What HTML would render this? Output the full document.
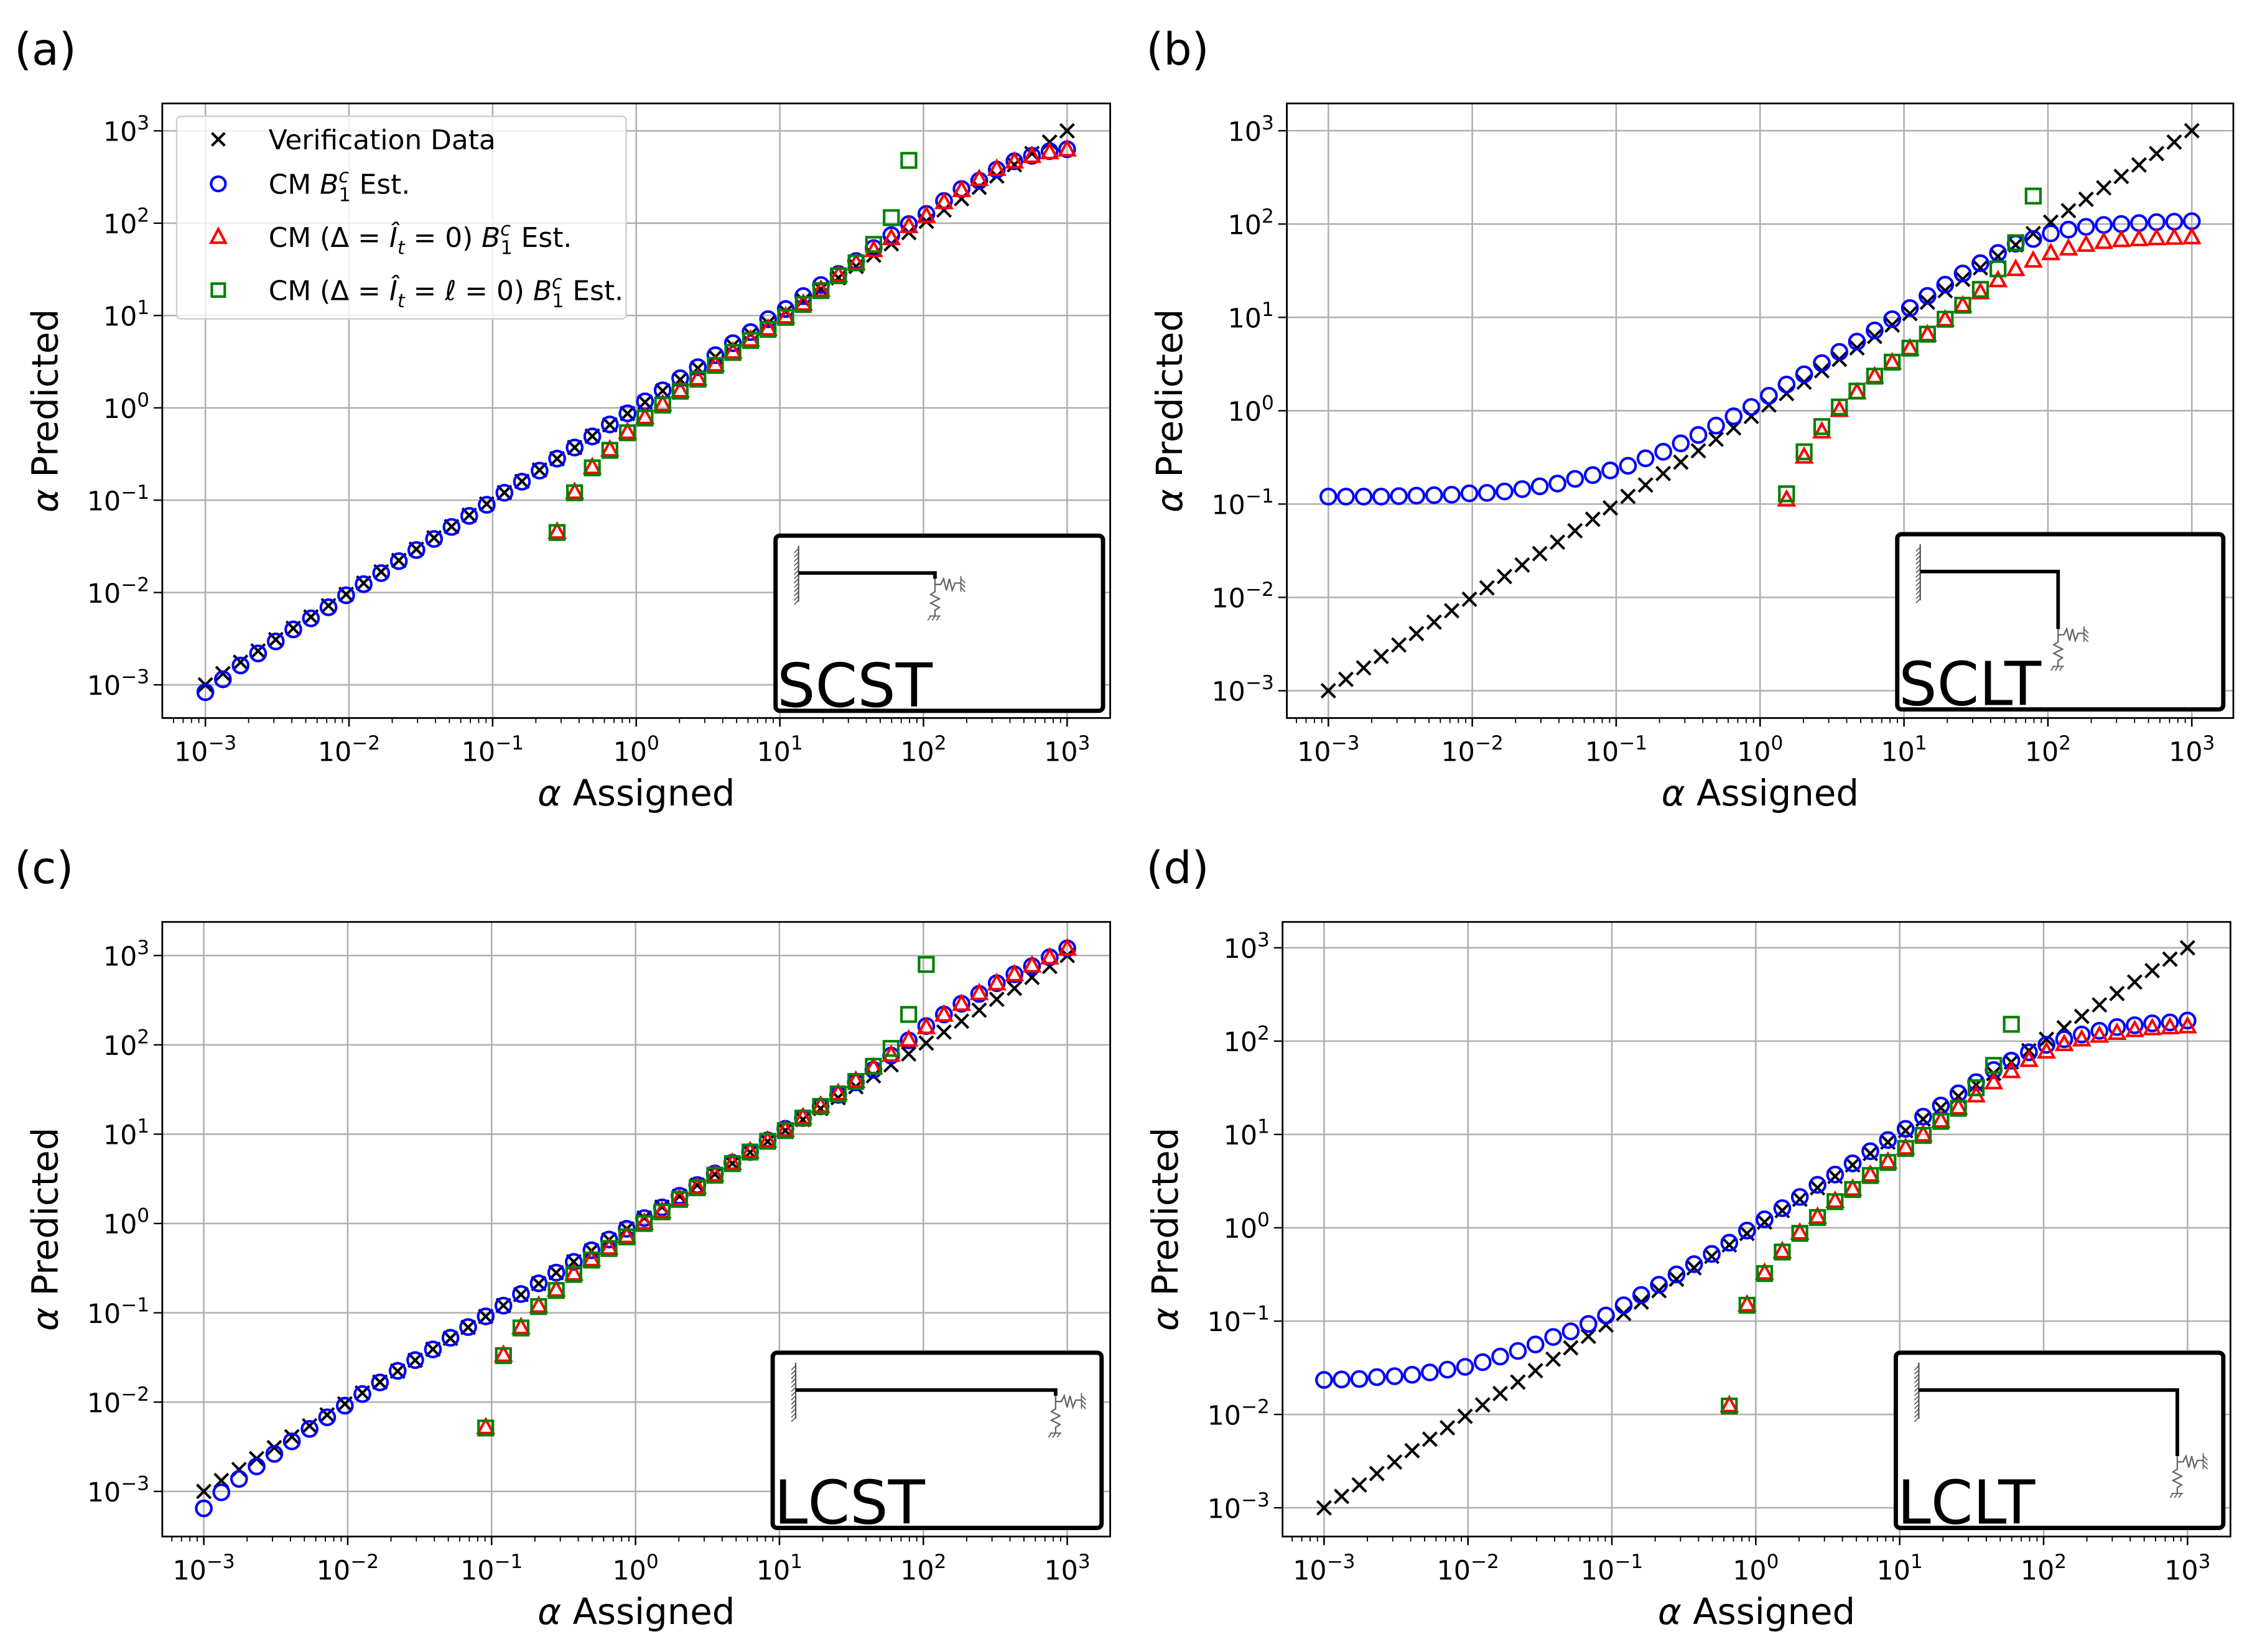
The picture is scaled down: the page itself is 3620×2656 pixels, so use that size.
<!DOCTYPE html>
<html><head><meta charset="utf-8"><style>
html,body{margin:0;padding:0;background:#fff;}
svg{display:block;}
text{font-family:"DejaVu Sans","Liberation Sans",sans-serif;}
</style></head><body>
<svg id="fig" xmlns="http://www.w3.org/2000/svg" width="3620" height="2656" viewBox="0 0 1568 1150.4"></svg>
<script>
// shared x values (log10 of alpha assigned)
const logAssigned = [-3.000,-2.878,-2.755,-2.633,-2.510,-2.388,-2.265,-2.143,-2.020,-1.898,-1.776,-1.653,-1.531,-1.408,-1.286,-1.163,-1.041,-0.918,-0.796,-0.673,-0.551,-0.429,-0.306,-0.184,-0.061,0.061,0.184,0.306,0.429,0.551,0.673,0.796,0.918,1.041,1.163,1.286,1.408,1.531,1.653,1.776,1.898,2.020,2.143,2.265,2.388,2.510,2.633,2.755,2.878,3.000];
const verificationLog = [-3.000,-2.878,-2.755,-2.633,-2.510,-2.388,-2.265,-2.143,-2.020,-1.898,-1.776,-1.653,-1.531,-1.408,-1.286,-1.163,-1.041,-0.918,-0.796,-0.673,-0.551,-0.429,-0.306,-0.184,-0.061,0.061,0.184,0.306,0.429,0.551,0.673,0.796,0.918,1.041,1.163,1.286,1.408,1.531,1.653,1.776,1.898,2.020,2.143,2.265,2.388,2.510,2.633,2.755,2.878,3.000];
const N=null;
// panel (a) SCST
const aCirc = [-3.08,-2.94,-2.79,-2.66,-2.53,-2.40,-2.28,-2.16,-2.03,-1.91,-1.79,-1.66,-1.54,-1.42,-1.29,-1.17,-1.05,-0.92,-0.80,-0.68,-0.55,-0.43,-0.31,-0.18,-0.06,0.07,0.19,0.32,0.44,0.57,0.70,0.82,0.96,1.07,1.21,1.33,1.45,1.59,1.73,1.87,1.99,2.10,2.24,2.37,2.46,2.58,2.67,2.73,2.78,2.80];
const aTri = [N,N,N,N,N,N,N,N,N,N,N,N,N,N,N,N,N,N,N,N,-1.35,-0.92,-0.65,-0.46,-0.27,-0.11,0.03,0.18,0.31,0.46,0.60,0.73,0.85,0.98,1.12,1.27,1.43,1.56,1.70,1.83,1.96,2.07,2.22,2.35,2.47,2.58,2.66,2.72,2.76,2.79];
const aSq = [N,N,N,N,N,N,N,N,N,N,N,N,N,N,N,N,N,N,N,N,-1.35,-0.92,-0.65,-0.46,-0.27,-0.11,0.03,0.18,0.31,0.46,0.60,0.73,0.85,0.98,1.12,1.27,1.43,1.57,1.77,2.06,2.68,N,N,N,N,N,N,N,N,N];
// panel (b) SCLT
const bCirc = [-0.92,-0.92,-0.92,-0.92,-0.915,-0.91,-0.905,-0.90,-0.885,-0.88,-0.865,-0.84,-0.81,-0.78,-0.73,-0.69,-0.64,-0.59,-0.51,-0.44,-0.35,-0.26,-0.16,-0.06,0.04,0.16,0.28,0.39,0.51,0.63,0.74,0.86,0.98,1.10,1.23,1.35,1.47,1.58,1.69,1.79,1.84,1.90,1.94,1.97,1.99,2.00,2.01,2.02,2.025,2.03];
const bTri = [N,N,N,N,N,N,N,N,N,N,N,N,N,N,N,N,N,N,N,N,N,N,N,N,N,N,-0.96,-0.50,-0.23,0.00,0.19,0.36,0.51,0.66,0.81,0.97,1.12,1.26,1.39,1.51,1.60,1.68,1.73,1.77,1.80,1.82,1.83,1.84,1.845,1.85];
const bSq = [N,N,N,N,N,N,N,N,N,N,N,N,N,N,N,N,N,N,N,N,N,N,N,N,N,N,-0.89,-0.44,-0.17,0.04,0.21,0.37,0.52,0.67,0.82,0.98,1.13,1.30,1.52,1.80,2.30,N,N,N,N,N,N,N,N,N];
// panel (c) LCST
const cCirc = [-3.19,-3.01,-2.86,-2.72,-2.58,-2.44,-2.30,-2.17,-2.04,-1.91,-1.78,-1.65,-1.53,-1.41,-1.28,-1.16,-1.04,-0.92,-0.79,-0.67,-0.55,-0.43,-0.30,-0.18,-0.06,0.06,0.18,0.31,0.43,0.56,0.68,0.80,0.93,1.06,1.18,1.31,1.44,1.58,1.72,1.88,2.05,2.21,2.34,2.46,2.57,2.69,2.79,2.88,2.98,3.08];
const cTri = [N,N,N,N,N,N,N,N,N,N,N,N,N,N,N,N,-2.29,-1.48,-1.17,-0.93,-0.75,-0.57,-0.41,-0.28,-0.15,0.00,0.13,0.27,0.40,0.54,0.67,0.80,0.92,1.04,1.18,1.31,1.45,1.59,1.74,1.88,2.05,2.19,2.33,2.45,2.57,2.68,2.78,2.88,2.97,3.07];
const cSq = [N,N,N,N,N,N,N,N,N,N,N,N,N,N,N,N,-2.29,-1.48,-1.17,-0.93,-0.75,-0.57,-0.41,-0.28,-0.15,0.00,0.13,0.27,0.40,0.54,0.67,0.80,0.92,1.04,1.18,1.31,1.45,1.59,1.76,1.96,2.34,2.90,N,N,N,N,N,N,N,N];
// panel (d) LCLT
const dCirc = [-1.63,-1.625,-1.62,-1.60,-1.59,-1.575,-1.55,-1.52,-1.49,-1.44,-1.38,-1.32,-1.25,-1.17,-1.11,-1.03,-0.94,-0.83,-0.72,-0.61,-0.50,-0.39,-0.28,-0.16,-0.03,0.09,0.21,0.33,0.46,0.57,0.69,0.82,0.94,1.06,1.19,1.31,1.44,1.56,1.69,1.79,1.88,1.96,2.02,2.07,2.11,2.15,2.17,2.19,2.20,2.22];
const dTri = [N,N,N,N,N,N,N,N,N,N,N,N,N,N,N,N,N,N,N,N,N,N,N,-1.91,-0.83,-0.49,-0.26,-0.06,0.11,0.28,0.41,0.56,0.70,0.85,0.99,1.14,1.28,1.41,1.55,1.67,1.79,1.88,1.96,2.01,2.05,2.08,2.11,2.13,2.14,2.15];
const dSq = [N,N,N,N,N,N,N,N,N,N,N,N,N,N,N,N,N,N,N,N,N,N,N,-1.91,-0.83,-0.49,-0.26,-0.06,0.11,0.28,0.41,0.56,0.70,0.85,0.99,1.14,1.28,1.50,1.74,2.18,N,N,N,N,N,N,N,N,N,N];
const decadeTicks = [-3,-2,-1,0,1,2,3];
const tickLabels = ["\u22123","\u22122","\u22121","0","1","2","3"];

const NS="http://www.w3.org/2000/svg";
const svg=document.getElementById('fig');
function mk(tag,attrs,parent){const e=document.createElementNS(NS,tag);for(const k in attrs)e.setAttribute(k,attrs[k]);(parent||svg).appendChild(e);return e;}

const panels=[
 {id:'a',L:113,R:773,T:72,B:500,x0:443,xd:100,y0:284,yd:64.3,lab:[10,45],circ:aCirc,tri:aTri,sq:aSq,inset:{x:540,y:373,w:228,h:122,beam:95,drop:4,name:'SCST'},legend:true},
 {id:'b',L:896,R:1555,T:72,B:500,x0:1225.5,xd:100.2,y0:286,yd:65,lab:[798,45],circ:bCirc,tri:bTri,sq:bSq,inset:{x:1321,y:372,w:227,h:122,beam:96,drop:40,name:'SCLT'}},
 {id:'c',L:113,R:773,T:642,B:1070,x0:442.5,xd:100.2,y0:852,yd:62.2,lab:[10,615],circ:cCirc,tri:cTri,sq:cSq,inset:{x:538,y:942,w:229,h:122,beam:181,drop:4,name:'LCST'}},
 {id:'d',L:893,R:1553,T:642,B:1070,x0:1222.5,xd:100.2,y0:855,yd:65,lab:[798,615],circ:dCirc,tri:dTri,sq:dSq,inset:{x:1320,y:942,w:228,h:122,beam:180,drop:46,name:'LCLT'}}
];

panels.forEach(p=>{
 const g=mk('g',{});
 
 
 const X=v=>p.x0+v*p.xd, Y=v=>p.y0-v*p.yd;
 const t=mk('text',{x:p.lab[0],y:p.lab[1],'font-size':31},g); t.textContent='('+p.id+')';
  
 const gg=mk('g',{stroke:'#b0b0b0','stroke-width':1.1},g);
  
 decadeTicks.forEach(d=>{mk('line',{x1:X(d),x2:X(d),y1:p.T,y2:p.B},gg);mk('line',{x1:p.L,x2:p.R,y1:Y(d),y2:Y(d)},gg);});
 const tk=mk('g',{stroke:'#000','stroke-width':1},g);
  
 for(let d=-4;d<=3;d++){for(let m=1;m<10;m++){const v=d+Math.log10(m);const x=X(v);if(x<p.L||x>p.R)continue;
   mk('line',{x1:x,x2:x,y1:p.B,y2:p.B+(m==1?6:3.5),'stroke-width':m==1?1.1:0.8},tk);}}
 decadeTicks.forEach(d=>mk('line',{x1:p.L-6,x2:p.L,y1:Y(d),y2:Y(d)},tk));
 decadeTicks.forEach((d,i)=>{
  const tx=mk('text',{x:X(d),y:p.B+30,'font-size':18.5,'text-anchor':'middle'},g);
   
  tx.innerHTML='10<tspan dy="-8" font-size="13.5">'+tickLabels[i]+'</tspan>';
  const ty=mk('text',{x:p.L-9,y:Y(d)+7,'font-size':18.5,'text-anchor':'end'},g);
   
  ty.innerHTML='10<tspan dy="-8" font-size="13.5">'+tickLabels[i]+'</tspan>';
 });
 const xl=mk('text',{x:(p.L+p.R)/2,y:p.B+61,'font-size':25,'text-anchor':'middle'},g);
  
 xl.innerHTML='<tspan font-style="italic">\u03b1</tspan> Assigned';
 const cy=(p.T+p.B)/2, cx=p.L-73;
 const yl=mk('text',{x:cx,y:cy,'font-size':25,'text-anchor':'middle',transform:'rotate(-90 '+cx+' '+cy+')'},g);
  
 yl.innerHTML='<tspan font-style="italic">\u03b1</tspan> Predicted';
 const clip='clip'+p.id;
 const cp=mk('clipPath',{id:clip},g); mk('rect',{x:p.L,y:p.T,width:p.R-p.L,height:p.B-p.T},cp);
 const sg=mk('g',{'clip-path':'url(#'+clip+')'},g);
 logAssigned.forEach((xv,i)=>{const v=verificationLog[i];if(v==null)return;const x=X(xv),y=Y(v);
  const e=mk('path',{d:`M${x-4.8},${y-4.8}L${x+4.8},${y+4.8}M${x-4.8},${y+4.8}L${x+4.8},${y-4.8}`,stroke:'#000','stroke-width':1.8,fill:'none'},sg);
   });
 logAssigned.forEach((xv,i)=>{const v=p.circ[i];if(v==null)return;
  const e=mk('circle',{cx:X(xv),cy:Y(v),r:5.3,stroke:'#0000ff','stroke-width':1.8,fill:'none'},sg);
   });
 logAssigned.forEach((xv,i)=>{const v=p.tri[i];if(v==null)return;const x=X(xv),y=Y(v);
  const e=mk('path',{d:`M${x},${y-6}L${x+5.2},${y+3.5}L${x-5.2},${y+3.5}Z`,stroke:'#ff0000','stroke-width':1.8,fill:'none'},sg);
   });
 logAssigned.forEach((xv,i)=>{const v=p.sq[i];if(v==null)return;const x=X(xv),y=Y(v);
  const e=mk('rect',{x:x-5,y:y-5,width:10,height:10,stroke:'#008000','stroke-width':1.8,fill:'none'},sg);
   });
 const fr=mk('rect',{x:p.L,y:p.T,width:p.R-p.L,height:p.B-p.T,fill:'none',stroke:'#000','stroke-width':1.2},g);
  
 const s=p.inset;
 const ig=mk('g',{},g);
  
 mk('rect',{x:s.x,y:s.y,width:s.w,height:s.h,rx:3,fill:'#fff',stroke:'#000','stroke-width':3},ig);
 const wx=s.x+16, by=s.y+26, ex=wx+s.beam;
 mk('line',{x1:wx,x2:wx,y1:s.y+7,y2:s.y+46,stroke:'#555','stroke-width':1},ig);
 for(let yy=s.y+9;yy<s.y+46;yy+=3)mk('line',{x1:wx,y1:yy,x2:wx-3,y2:yy+3,stroke:'#555','stroke-width':0.7},ig);
 mk('path',{d:`M${wx},${by}L${ex},${by}L${ex},${by+s.drop}`,fill:'none',stroke:'#000','stroke-width':2.5},ig);
 const ty0=by+s.drop;
 mk('path',{d:`M${ex},${ty0}L${ex},${ty0+4}L${ex+4},${ty0+4}L${ex+6},${ty0}L${ex+8},${ty0+8}L${ex+10},${ty0}L${ex+12},${ty0+8}L${ex+14},${ty0+3}L${ex+18},${ty0+3}`,fill:'none',stroke:'#666','stroke-width':1},ig);
 mk('path',{d:`M${ex+18},${ty0-2}L${ex+18},${ty0+9}M${ex+18},${ty0}l3,3M${ex+18},${ty0+3}l3,3M${ex+18},${ty0+6}l3,3`,fill:'none',stroke:'#666','stroke-width':0.8},ig);
 mk('path',{d:`M${ex},${ty0+4}L${ex},${ty0+9}L${ex-3},${ty0+11}L${ex+3},${ty0+14}L${ex-3},${ty0+17}L${ex+3},${ty0+20}L${ex},${ty0+22}L${ex},${ty0+26}`,fill:'none',stroke:'#666','stroke-width':1},ig);
 mk('path',{d:`M${ex-4},${ty0+26}L${ex+4},${ty0+26}M${ex-3},${ty0+26}l-2,3M${ex},${ty0+26}l-2,3M${ex+3},${ty0+26}l-2,3`,fill:'none',stroke:'#666','stroke-width':0.8},ig);
 const it=mk('text',{x:s.x+1,y:s.y+s.h-3,'font-size':42},ig); it.textContent=s.name;
  
 if(p.legend){
  const lg=mk('g',{},g);
   
  mk('rect',{x:123,y:81,width:313,height:141,rx:3,fill:'#fff','fill-opacity':0.8,stroke:'#ccc','stroke-width':1},lg);
  const rows=[97,128,165,202], mx=152, tx=187;
  const l0=mk('path',{d:`M${mx-4.5},${rows[0]-4.5}L${mx+4.5},${rows[0]+4.5}M${mx-4.5},${rows[0]+4.5}L${mx+4.5},${rows[0]-4.5}`,stroke:'#000','stroke-width':1.8},lg);
   
  mk('circle',{cx:mx,cy:rows[1],r:5,fill:'none',stroke:'#0000ff','stroke-width':1.8},lg);
  mk('path',{d:`M${mx},${rows[2]-5.5}L${mx+5},${rows[2]+4}L${mx-5},${rows[2]+4}Z`,fill:'none',stroke:'#ff0000','stroke-width':1.8},lg);
  mk('rect',{x:mx-4.5,y:rows[3]-4.5,width:9,height:9,fill:'none',stroke:'#008000','stroke-width':1.8},lg);
  const B='<tspan font-style="italic">B</tspan><tspan dy="-8" font-size="13" font-style="italic">c</tspan><tspan dx="-7" dy="13" font-size="13">1</tspan><tspan dy="-5"> Est.</tspan>';
  const Ih='<tspan font-style="italic">\u00ce</tspan><tspan dy="5" font-size="13" font-style="italic">t</tspan><tspan dy="-5">';
  const labels=['Verification Data','CM '+B,'CM (\u0394 = '+Ih+' = 0) </tspan>'+B,'CM (\u0394 = '+Ih+' = <tspan font-style="italic">\u2113</tspan> = 0) </tspan>'+B];
  labels.forEach((h,i)=>{const e=mk('text',{x:tx,y:rows[i]+7,'font-size':19,'textLength':null},lg);e.removeAttribute('textLength');e.innerHTML=h;
    });
 }
});
</script>
</body></html>
